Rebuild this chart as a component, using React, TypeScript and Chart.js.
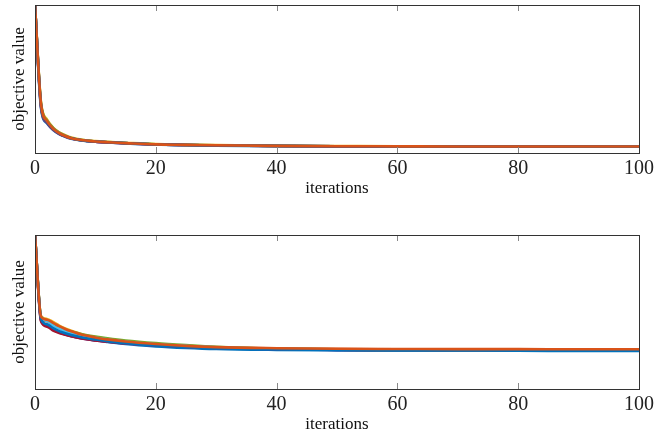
import React, { useEffect, useRef } from "react";
import { Chart, registerables } from "chart.js";

Chart.register(...registerables);

const iterations = [0, 1, 2, 3, 4, 5, 6, 8, 10, 12, 15, 20, 25, 30, 40, 50, 60, 70, 80, 90, 100];
const xTicks = [0, 20, 40, 60, 80, 100];
const xTitle = "iterations";
const yTitle = "objective value";

const seriesColors = ["#0072BD", "#D95319", "#EDB120", "#7E2F8E", "#77AC30", "#4DBEEE", "#A2142F", "#0072BD", "#D95319"];

// top panel
const top1 = [1.0, 0.30, 0.20, 0.155, 0.128, 0.11, 0.097, 0.083, 0.076, 0.071, 0.065, 0.057, 0.053, 0.05, 0.046, 0.044, 0.043, 0.043, 0.042, 0.042, 0.042];
const top2 = [1.0, 0.325, 0.212, 0.163, 0.134, 0.115, 0.1, 0.085, 0.078, 0.073, 0.067, 0.058, 0.054, 0.051, 0.047, 0.045, 0.044, 0.044, 0.043, 0.043, 0.043];
const top3 = [1.0, 0.34, 0.225, 0.172, 0.14, 0.12, 0.104, 0.088, 0.08, 0.075, 0.069, 0.06, 0.056, 0.053, 0.049, 0.047, 0.045, 0.044, 0.044, 0.044, 0.043];
const top4 = [1.0, 0.31, 0.205, 0.158, 0.13, 0.112, 0.098, 0.084, 0.077, 0.072, 0.066, 0.058, 0.054, 0.051, 0.047, 0.045, 0.044, 0.043, 0.043, 0.043, 0.042];
const top5 = [1.0, 0.335, 0.22, 0.17, 0.138, 0.118, 0.102, 0.087, 0.079, 0.074, 0.068, 0.059, 0.055, 0.052, 0.048, 0.046, 0.045, 0.044, 0.043, 0.043, 0.043];
const top6 = [1.0, 0.32, 0.21, 0.162, 0.133, 0.114, 0.1, 0.085, 0.078, 0.073, 0.067, 0.058, 0.054, 0.051, 0.047, 0.045, 0.044, 0.044, 0.043, 0.043, 0.043];
const top7 = [1.0, 0.315, 0.208, 0.16, 0.131, 0.113, 0.099, 0.084, 0.077, 0.072, 0.066, 0.058, 0.054, 0.051, 0.047, 0.045, 0.044, 0.043, 0.043, 0.043, 0.042];
const top8 = [1.0, 0.322, 0.211, 0.163, 0.133, 0.114, 0.1, 0.085, 0.078, 0.073, 0.067, 0.058, 0.054, 0.052, 0.048, 0.046, 0.045, 0.044, 0.044, 0.043, 0.043];
const top9 = [1.0, 0.33, 0.215, 0.165, 0.135, 0.115, 0.1, 0.086, 0.078, 0.073, 0.067, 0.058, 0.055, 0.052, 0.048, 0.046, 0.045, 0.044, 0.044, 0.044, 0.044];

// bottom panel
const bot1 = [1.0, 0.45, 0.412, 0.388, 0.37, 0.356, 0.345, 0.328, 0.316, 0.306, 0.292, 0.277, 0.267, 0.26, 0.254, 0.251, 0.249, 0.248, 0.248, 0.247, 0.247];
const bot2 = [1.0, 0.465, 0.44, 0.415, 0.395, 0.378, 0.364, 0.343, 0.33, 0.318, 0.304, 0.288, 0.278, 0.27, 0.263, 0.259, 0.257, 0.256, 0.255, 0.255, 0.255];
const bot3 = [1.0, 0.475, 0.455, 0.435, 0.412, 0.393, 0.378, 0.353, 0.337, 0.324, 0.309, 0.292, 0.28, 0.271, 0.262, 0.257, 0.254, 0.252, 0.251, 0.25, 0.25];
const bot4 = [1.0, 0.445, 0.41, 0.385, 0.367, 0.354, 0.343, 0.327, 0.316, 0.307, 0.295, 0.282, 0.273, 0.266, 0.258, 0.254, 0.252, 0.251, 0.25, 0.25, 0.249];
const bot5 = [1.0, 0.47, 0.448, 0.425, 0.405, 0.387, 0.373, 0.354, 0.34, 0.329, 0.315, 0.298, 0.285, 0.274, 0.262, 0.256, 0.253, 0.251, 0.25, 0.25, 0.249];
const bot6 = [1.0, 0.468, 0.442, 0.412, 0.392, 0.376, 0.363, 0.346, 0.333, 0.322, 0.307, 0.291, 0.28, 0.271, 0.262, 0.257, 0.254, 0.252, 0.251, 0.25, 0.25];
const bot7 = [1.0, 0.44, 0.405, 0.38, 0.364, 0.352, 0.342, 0.326, 0.316, 0.308, 0.297, 0.284, 0.275, 0.268, 0.26, 0.256, 0.253, 0.252, 0.251, 0.25, 0.25];
const bot8 = [1.0, 0.455, 0.42, 0.395, 0.376, 0.362, 0.35, 0.333, 0.321, 0.311, 0.298, 0.283, 0.273, 0.265, 0.257, 0.253, 0.251, 0.25, 0.249, 0.249, 0.248];
const bot9 = [1.0, 0.47, 0.45, 0.43, 0.408, 0.39, 0.375, 0.35, 0.335, 0.322, 0.308, 0.292, 0.28, 0.272, 0.265, 0.261, 0.26, 0.259, 0.259, 0.258, 0.258];

const topSeries = [top1, top2, top3, top4, top5, top6, top7, top8, top9];
const bottomSeries = [bot1, bot2, bot3, bot4, bot5, bot6, bot7, bot8, bot9];

const frameAndTicks = {
  id: "frameAndTicks",
  afterDraw(chart: any) {
    const { ctx, chartArea } = chart;
    const xs = chart.scales.x;
    ctx.save();
    ctx.strokeStyle = "#888";
    ctx.lineWidth = 1;
    for (const v of xTicks) {
      const px = Math.round(xs.getPixelForValue(v)) + 0.5;
      ctx.beginPath();
      ctx.moveTo(px, chartArea.bottom);
      ctx.lineTo(px, chartArea.bottom - 6);
      ctx.moveTo(px, chartArea.top);
      ctx.lineTo(px, chartArea.top + 6);
      ctx.stroke();
    }
    ctx.strokeStyle = "#333";
    ctx.strokeRect(
      Math.round(chartArea.left) + 0.5,
      Math.round(chartArea.top) + 0.5,
      Math.round(chartArea.right - chartArea.left),
      Math.round(chartArea.bottom - chartArea.top)
    );
    ctx.restore();
  },
};

function makeConfig(series: number[][], padTop: number, padBottom: number) {
  return {
    type: "line" as const,
    data: {
      datasets: series.map((vals, i) => ({
        label: "run " + (i + 1),
        data: iterations.map((x, j) => ({ x, y: vals[j] })),
        borderColor: seriesColors[i],
        backgroundColor: seriesColors[i],
        borderWidth: 2.6,
        pointRadius: 0,
        order: series.length - i,
        cubicInterpolationMode: "monotone" as const,
        fill: false,
      })),
    },
    options: {
      animation: false as const,
      responsive: false,
      maintainAspectRatio: false,
      layout: { padding: { left: 0, right: 31, top: padTop, bottom: padBottom } },
      plugins: { legend: { display: false }, tooltip: { enabled: false } },
      scales: {
        x: {
          type: "linear" as const,
          min: 0,
          max: 100,
          afterBuildTicks: (scale: any) => {
            scale.ticks = xTicks.map((v) => ({ value: v }));
          },
          afterFit: (scale: any) => {
            scale.height = 46;
          },
          grid: { display: false, drawTicks: false },
          border: { display: false },
          ticks: {
            padding: 4,
            color: "#222",
            font: { family: "'Liberation Serif', serif", size: 20 },
            maxRotation: 0,
          },
          title: {
            display: true,
            text: xTitle,
            color: "#111",
            padding: { top: 0, bottom: 0 },
            font: { family: "'Liberation Serif', serif", size: 17 },
          },
        },
        y: {
          type: "linear" as const,
          min: 0,
          max: 1,
          afterFit: (scale: any) => {
            scale.width = 35;
          },
          grid: { display: false, drawTicks: false },
          border: { display: false },
          ticks: { display: false },
          title: {
            display: true,
            text: yTitle,
            color: "#111",
            padding: { top: 9, bottom: 0 },
            font: { family: "'Liberation Serif', serif", size: 17 },
          },
        },
      },
    },
    plugins: [frameAndTicks],
  };
}

function Panel({ series, padTop, padBottom }: { series: number[][]; padTop: number; padBottom: number }) {
  const ref = useRef<HTMLCanvasElement | null>(null);
  useEffect(() => {
    if (!ref.current) return;
    const chart = new Chart(ref.current, makeConfig(series, padTop, padBottom) as any);
    return () => chart.destroy();
  }, [series, padTop, padBottom]);
  return <canvas ref={ref} width={670} height={218} style={{ display: "block", width: 670, height: 218 }} />;
}

export default function App() {
  return (
    <div style={{ position: "fixed", left: 0, top: 0, width: 670, height: 436, background: "#fff" }}>
      <Panel series={topSeries} padTop={5} padBottom={19} />
      <Panel series={bottomSeries} padTop={17} padBottom={1} />
    </div>
  );
}
